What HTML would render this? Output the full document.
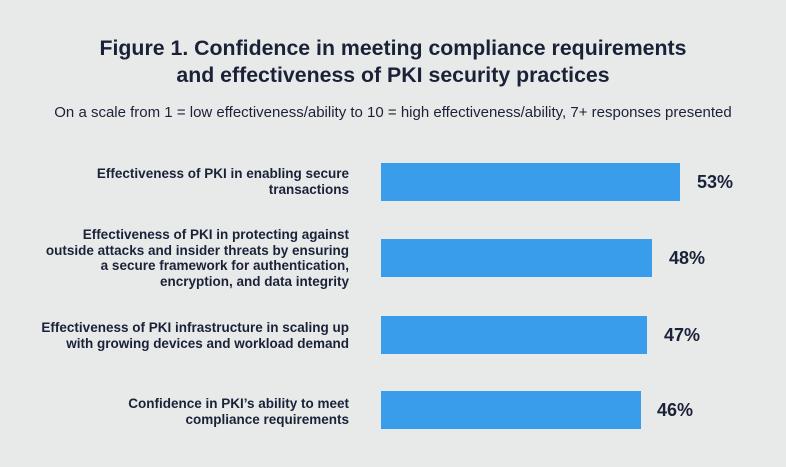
<!DOCTYPE html>
<html><head><style>
body{margin:0;width:786px;height:467px;background:#e8eaea;font-family:"Liberation Sans",sans-serif;color:#1b2238;position:relative;overflow:hidden}
.t{position:absolute;left:0;width:786px;text-align:center;font-weight:bold;font-size:21.3px;line-height:27px;top:35px}
.s{position:absolute;left:0;width:786px;text-align:center;font-size:15px;top:104px}
.l{position:absolute;right:437px;text-align:right;font-family:"Liberation Sans Narrow","Liberation Sans",sans-serif;font-weight:bold;font-size:13.5px;line-height:15.5px}
.b{position:absolute;left:381px;height:38px;background:#3a9deb}
.v{position:absolute;font-weight:bold;font-size:18px}
</style></head><body>
<div class="t">Figure 1. Confidence in meeting compliance requirements<br>and effectiveness of PKI security practices</div>
<div class="s">On a scale from 1 = low effectiveness/ability to 10 = high effectiveness/ability, 7+ responses presented</div>
<div class="l" style="top:166px">Effectiveness of PKI in enabling secure<br>transactions</div>
<div class="b" style="top:163px;width:299px"></div><div class="v" style="left:697px;top:172px">53%</div>
<div class="l" style="top:227px">Effectiveness of PKI in protecting against<br>outside attacks and insider threats by ensuring<br>a secure framework for authentication,<br>encryption, and data integrity</div>
<div class="b" style="top:239px;width:271px"></div><div class="v" style="left:669px;top:248px">48%</div>
<div class="l" style="top:320px">Effectiveness of PKI infrastructure in scaling up<br>with growing devices and workload demand</div>
<div class="b" style="top:316px;width:266px"></div><div class="v" style="left:664px;top:325px">47%</div>
<div class="l" style="top:396px">Confidence in PKI’s ability to meet<br>compliance requirements</div>
<div class="b" style="top:391px;width:260px"></div><div class="v" style="left:657px;top:400px">46%</div>
</body></html>
